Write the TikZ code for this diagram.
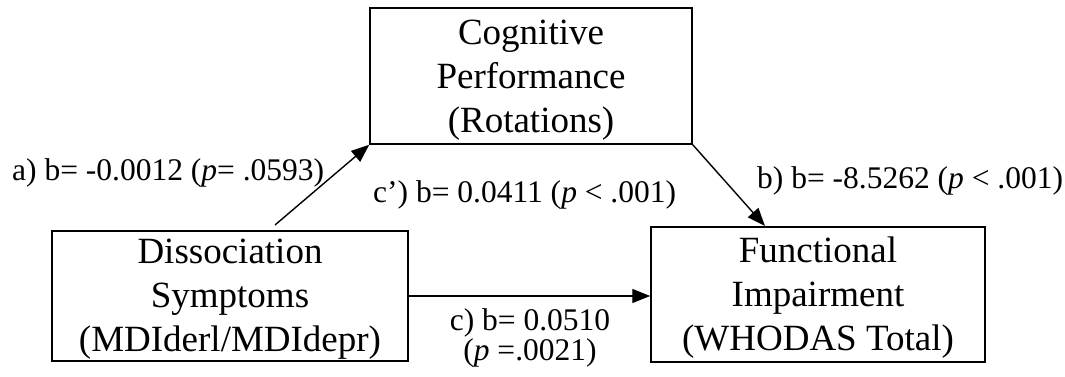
\documentclass[tikz,border=0pt]{standalone}
\usepackage{fontspec}
\setmainfont{Liberation Serif}
\usetikzlibrary{arrows.meta}
\begin{document}
\begin{tikzpicture}[x=1pt,y=-1pt,
  box/.style={draw, line width=1.5pt, inner sep=0pt},
  boxtext/.style={inner sep=0pt, align=center, font=\fontsize{37}{44}\selectfont},
  lbl/.style={inner sep=0pt, font=\fontsize{31.5}{26}\selectfont},
  arr/.style={line width=1.4pt, -{Triangle[length=18pt,width=14pt]}}]
\useasboundingbox (0,0) rectangle (1065,377);
\node[box, minimum width=322pt, minimum height=136pt] (top) at (531,76) {};
\node[box, minimum width=356pt, minimum height=130pt] (left) at (230,296) {};
\node[box, minimum width=334pt, minimum height=135pt] (right) at (818,294.5) {};
\node[boxtext] (topt) at ([yshift=-4pt]top.center) {Cognitive\\Performance\\(Rotations)};
\node[boxtext] (leftt) at ([yshift=-3pt]left.center) {Dissociation\\Symptoms\\(MDIderl/MDIdepr)};
\node[boxtext] (rightt) at ([yshift=-3pt]right.center) {Functional\\Impairment\\(WHODAS Total)};
\coordinate (a0) at (275,225);
\coordinate (b1) at (765,226);
\draw[arr] (a0) -- (top.south west);
\draw[arr] (top.south east) -- (b1);
\draw[arr] (left.east) -- (left.east -| right.west);
\node[lbl, anchor=base west] (la) at (12,180) {a) b= -0.0012 (\textit{p}= .0593)};
\node[lbl, anchor=base west] (lcp) at (373,202) {c’) b= 0.0411 (\textit{p} < .001)};
\node[lbl, anchor=base west] (lb) at (757,188) {b) b= -8.5262 (\textit{p} < .001)};
\node[lbl, align=center] (lc) at (530,338) {c) b= 0.0510\\(\textit{p} =.0021)};
\end{tikzpicture}
\end{document}
